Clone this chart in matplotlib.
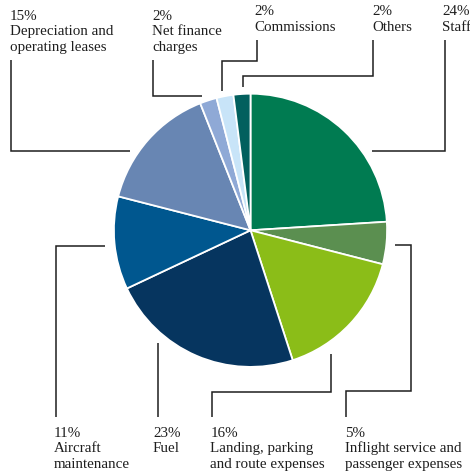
import matplotlib
matplotlib.use("Agg")
import matplotlib.pyplot as plt

# Cost breakdown (percent of total operating costs)
categories = [
    "Staff",
    "Inflight service and passenger expenses",
    "Landing, parking and route expenses",
    "Fuel",
    "Aircraft maintenance",
    "Depreciation and operating leases",
    "Net finance charges",
    "Commissions",
    "Others",
]
shares = [24, 5, 16, 23, 11, 15, 2, 2, 2]
colors = ["#007b51", "#5b8f50", "#8bbd18", "#06355f", "#00578f",
          "#6886b3", "#8fa9d6", "#c8e4f8", "#02605e"]

# Label text, split into lines as printed
label_lines = [
    ["24%", "Staff"],
    ["5%", "Inflight service and", "passenger expenses"],
    ["16%", "Landing, parking", "and route expenses"],
    ["23%", "Fuel"],
    ["11%", "Aircraft", "maintenance"],
    ["15%", "Depreciation and", "operating leases"],
    ["2%", "Net finance", "charges"],
    ["2%", "Commissions"],
    ["2%", "Others"],
]

# Label anchor (left x, first baseline y) in pixel space
label_pos = [
    (442.3, 15.0),
    (344.6, 436.7),
    (210.3, 436.7),
    (153.0, 436.7),
    (53.6, 436.7),
    (9.6, 19.5),
    (152.3, 19.5),
    (254.6, 15.0),
    (372.0, 15.0),
]

# Elbow leader lines from the pie to each label
leaders = [
    [(372, 150.5), (444.5, 150.5), (444.5, 39.5)],
    [(395, 245), (410.5, 245), (410.5, 391), (346, 391), (346, 416.5)],
    [(331, 354), (331, 391.5), (212.3, 391.5), (212.3, 416.5)],
    [(157.8, 343), (157.8, 416.5)],
    [(105, 245.5), (56, 245.5), (56, 416.5)],
    [(129.5, 150.7), (11, 150.7), (11, 60)],
    [(202, 95.7), (153.3, 95.7), (153.3, 60)],
    [(221.7, 90.7), (221.7, 60.7), (256.7, 60.7), (256.7, 39.5)],
    [(242.7, 87), (242.7, 76), (373, 76), (373, 39.5)],
]

W, H = 470, 475
fig = plt.figure(figsize=(W / 100, H / 100), dpi=100)
ax = fig.add_axes([0, 0, 1, 1])

ax.pie(shares, colors=colors, center=(250.5, 230.3), radius=136.6,
       startangle=270, counterclock=True, frame=True,
       wedgeprops=dict(edgecolor="white", linewidth=1.3))
ax.set_xlim(0, W)
ax.set_ylim(H, 0)
ax.axis("off")

line_color = "#1e1e1e"
for path in leaders:
    xs = [p[0] for p in path]
    ys = [p[1] for p in path]
    ax.plot(xs, ys, color=line_color, lw=1.1, solid_capstyle="butt",
            solid_joinstyle="miter")

text_color = "#1e1e1e"
for lines, (x, y0) in zip(label_lines, label_pos):
    for i, line in enumerate(lines):
        ax.text(x, y0 + 15.6 * i, line, ha="left", va="baseline",
                fontsize=10.8, family="Liberation Serif", color=text_color)

fig.savefig("out.png", dpi=100)
